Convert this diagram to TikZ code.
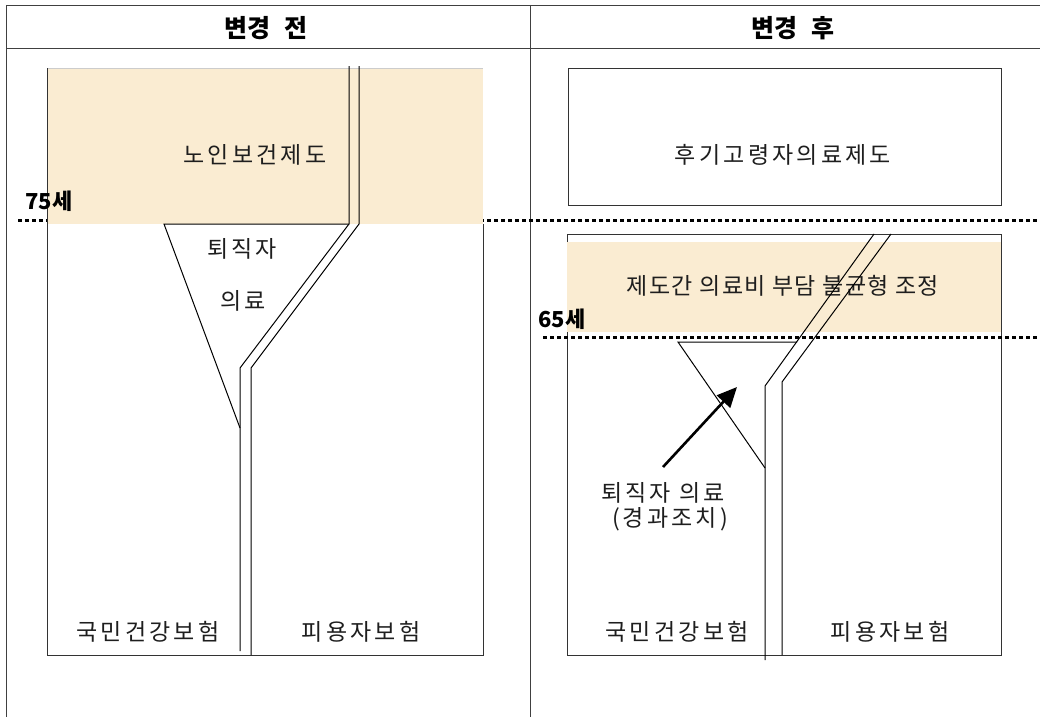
\documentclass[tikz,border=0pt]{standalone}
\usepackage{fontspec}
\usetikzlibrary{arrows.meta}
\newfontfamily\kr{Noto Sans CJK KR}[LetterSpace=14]
\newfontfamily\krn{Noto Sans CJK KR}[LetterSpace=6]
\newfontfamily\krl{Noto Sans CJK KR}
\definecolor{beige}{RGB}{250,236,210}
\definecolor{ink}{RGB}{30,30,30}
\begin{document}
\begin{tikzpicture}[x=1pt,y=-1pt,
  tbl/.style={draw=black!75, line width=0.9pt},
  boxline/.style={draw=black!80, line width=1pt},
  track/.style={draw=black, line width=1pt, line join=miter},
  dots/.style={draw=black, line width=3pt, dash pattern=on 4pt off 3pt},
  body/.style={font=\kr\fontsize{23}{26}\selectfont, text=ink, inner sep=0pt},
  bodyn/.style={font=\krn\fontsize{23}{26}\selectfont, text=ink, inner sep=0pt},
  head/.style={font=\krl\bfseries\fontsize{25}{28}\selectfont, inner sep=0pt},
  age/.style={font=\krl\bfseries\fontsize{22}{25}\selectfont, inner sep=0pt}
]
\useasboundingbox (0,0) rectangle (1040,717);
\fill[white] (0,0) rectangle (1040,717);
% table
\draw[tbl] (6,5) -- (1040,5);
\draw[tbl] (6,48) -- (1040,48);
\draw[tbl] (6,5) -- (6,717);
\draw[tbl] (530,5) -- (530,717);
\node[head] (hL) at (266,28) {변경\hspace{14pt}전};
\node[head] (hR) at (793,28) {변경\hspace{14pt}후};
% dotted age lines
\draw[dots] (18,220) -- (1040,220);
% left panel
\fill[beige] (47,68) rectangle (483,224);
\draw[black!20] (47,68) -- (483,68);
\draw[boxline] (483,224) -- (483,655) -- (47,655) -- (47,68);
\draw[track] (349,66) -- (349,224) -- (240,368) -- (240,651);
\draw[track] (359,66) -- (359,224) -- (251,368) -- (251,655);
\draw[track] (349,224) -- (164,224) -- (240,428);
\node[body] (noin) at (255,155) {노인보건제도};
\node[body] (toe1) at (242,249) {퇴직자};
\node[body] (ui1) at (243,301) {의료};
\node[body] (nhiL) at (148,632) {국민건강보험};
\node[body] (empL) at (361,632) {피용자보험};
\node[age] (a75) at (49,201) {75세};
% right panel
\draw[boxline] (568,68) rectangle (1001,205);
\node[body] (late) at (783,155) {후기고령자의료제도};
\draw[boxline] (567,234) rectangle (1001,655);
\fill[beige] (567,242) rectangle (1001,332);
\draw[dots] (543,337) -- (1040,337);
\node[bodyn] (adj) at (783,286) {제도간 의료비 부담 불균형 조정};
\node[age] (a65) at (562,319) {65세};
\draw[track] (874,234) -- (765,386) -- (765,660);
\draw[track] (891,234) -- (782,382) -- (782,655);
\draw[track] (797,342) -- (678,342) -- (765,468);
\node[body] (toe2) at (663,493) {퇴직자 의료};
\node[body] (gyeong) at (670,519) {(\hspace{3pt}경과조치\hspace{3pt})};
\node[body] (nhiR) at (677,632) {국민건강보험};
\node[body] (empR) at (890,632) {피용자보험};
\coordinate (arrS) at (663,467);
\coordinate (arrE) at (737,387);
\draw[line width=2.6pt, -{Triangle[length=20pt,width=18pt]}] (arrS) -- (arrE);
\end{tikzpicture}
\end{document}
